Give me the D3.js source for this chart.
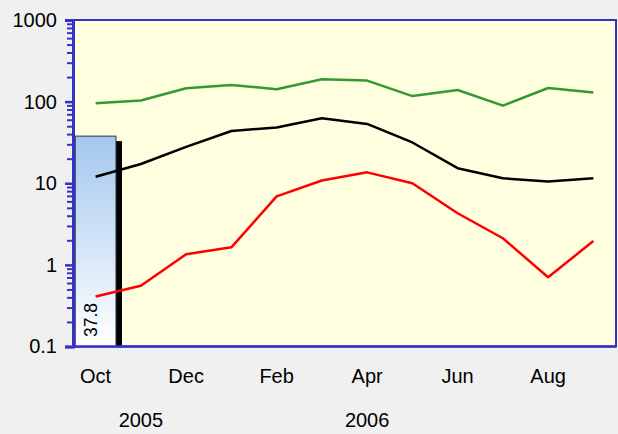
<!DOCTYPE html>
<html>
<head>
<meta charset="utf-8">
<script src="https://cdn.jsdelivr.net/npm/d3@7"></script>
<style>
  html, body { margin: 0; padding: 0; background: #f0f0f0; }
  svg { display: block; }
  text { font-family: "Liberation Sans", Arial, sans-serif; }
</style>
</head>
<body>
<svg id="chart" width="618" height="434"></svg>
<script>
// ---- data ----
const months = ["Oct","Nov","Dec","Jan","Feb","Mar","Apr","May","Jun","Jul","Aug","Sep"];
const monthTickLabels = ["Oct","Dec","Feb","Apr","Jun","Aug"];
const years = ["2005","2006"];
const yearAnchorMonths = ["Nov","Apr"];
const greenSeries = [95.5,103,146,160,142,188,181,117,139,89.3,147,129];
const blackSeries = [12.0,17.2,27.9,43.7,48.3,62.6,53.3,31.6,15.3,11.5,10.5,11.5];
const redSeries   = [0.41,0.556,1.35,1.64,6.9,10.8,13.6,10.0,4.29,2.12,0.705,1.96];
const barMonths = ["Oct"];
const barValues = [37.8];
const yMajorTicks = [0.1,1,10,100,1000];

// ---- layout ----
const svg = d3.select("#chart");
const mLeft = 73, mRight = 616, mTop = 20, mBottom = 346.5;
const axisBlue = "#3333cc";

const x = d3.scaleBand().domain(months).range([mLeft, mRight]).padding(0);
const y = d3.scaleLog().domain([0.1, 1000]).range([mBottom, mTop]);
const cx = m => x(m) + x.bandwidth() / 2;

// plot area
svg.append("rect")
  .attr("x", mLeft).attr("y", mTop)
  .attr("width", mRight - mLeft).attr("height", mBottom - mTop)
  .attr("fill", "#ffffe0")
  .attr("stroke", axisBlue).attr("stroke-width", 2);

// gradient for bar
const defs = svg.append("defs");
const grad = defs.append("linearGradient").attr("id", "barGrad")
  .attr("x1", 0).attr("y1", 0).attr("x2", 0).attr("y2", 1);
grad.append("stop").attr("offset", "0%").attr("stop-color", "#a3c7ee");
grad.append("stop").attr("offset", "100%").attr("stop-color", "#ffffff");

// bar with shadow
const barW = x.bandwidth() * 0.9;
const bars = svg.append("g");
barMonths.forEach((m, i) => {
  const bx = cx(m) - barW / 2;
  const by = y(barValues[i]);
  bars.append("rect")
    .attr("x", bx + 6).attr("y", by + 5)
    .attr("width", barW).attr("height", mBottom - by - 5)
    .attr("fill", "#000");
  bars.append("rect")
    .attr("x", bx).attr("y", by)
    .attr("width", barW).attr("height", mBottom - by)
    .attr("fill", "url(#barGrad)")
    .attr("stroke", "#333").attr("stroke-width", 1);
  bars.append("text")
    .attr("transform", `translate(${cx(m) + 1.5},${mBottom - 9.5}) rotate(-90)`)
    .attr("text-anchor", "start")
    .style("font-family", "'Liberation Sans', Arial, sans-serif")
    .style("font-size", "17.5px")
    .attr("fill", "#000")
    .text(barValues[i]);
});

// lines
const line = d3.line().x((d, i) => cx(months[i])).y(d => y(d));
[[greenSeries, "#339933"], [blackSeries, "#000000"], [redSeries, "#ff0000"]].forEach(([s, c]) => {
  svg.append("path").datum(s)
    .attr("d", line)
    .attr("fill", "none")
    .attr("stroke", c)
    .attr("stroke-width", 2.5)
    .attr("stroke-linejoin", "round");
});

// y axis: minor ticks
const minorTicks = [];
for (let e = -1; e < 3; e++) for (let k = 2; k <= 9; k++) minorTicks.push(k * Math.pow(10, e));
const yMinor = svg.append("g").attr("transform", `translate(${mLeft},0)`)
  .call(d3.axisLeft(y).tickValues(minorTicks).tickSize(6).tickFormat(""));
yMinor.select(".domain").remove();
yMinor.selectAll("line").attr("stroke", axisBlue).attr("stroke-width", 2);

const yAxis = svg.append("g").attr("transform", `translate(${mLeft},0)`)
  .call(d3.axisLeft(y).tickValues(yMajorTicks).tickSize(8).tickPadding(8)
    .tickFormat(d => String(d)));
yAxis.select(".domain").attr("stroke", axisBlue).attr("stroke-width", 3);
yAxis.selectAll("line").attr("stroke", axisBlue).attr("stroke-width", 2.5);
yAxis.selectAll("text")
  .style("font-family", "'Liberation Sans', Arial, sans-serif")
  .style("font-size", "20px").attr("fill", "#000");

// bottom axis line
svg.append("line")
  .attr("x1", mLeft).attr("x2", mRight).attr("y1", mBottom).attr("y2", mBottom)
  .attr("stroke", axisBlue).attr("stroke-width", 2.5);

// x axis labels
const xAxis = svg.append("g").attr("transform", `translate(0,${mBottom})`)
  .call(d3.axisBottom(x).tickValues(monthTickLabels).tickSize(0).tickPadding(22));
xAxis.select(".domain").remove();
xAxis.selectAll("text")
  .style("font-family", "'Liberation Sans', Arial, sans-serif")
  .style("font-size", "20px").attr("fill", "#000");

// year labels
svg.append("g").selectAll("text").data(years).join("text")
  .attr("x", (d, i) => cx(yearAnchorMonths[i]))
  .attr("y", 427)
  .attr("text-anchor", "middle")
  .style("font-size", "20px")
  .attr("fill", "#000")
  .text(d => d);
</script>
</body>
</html>
